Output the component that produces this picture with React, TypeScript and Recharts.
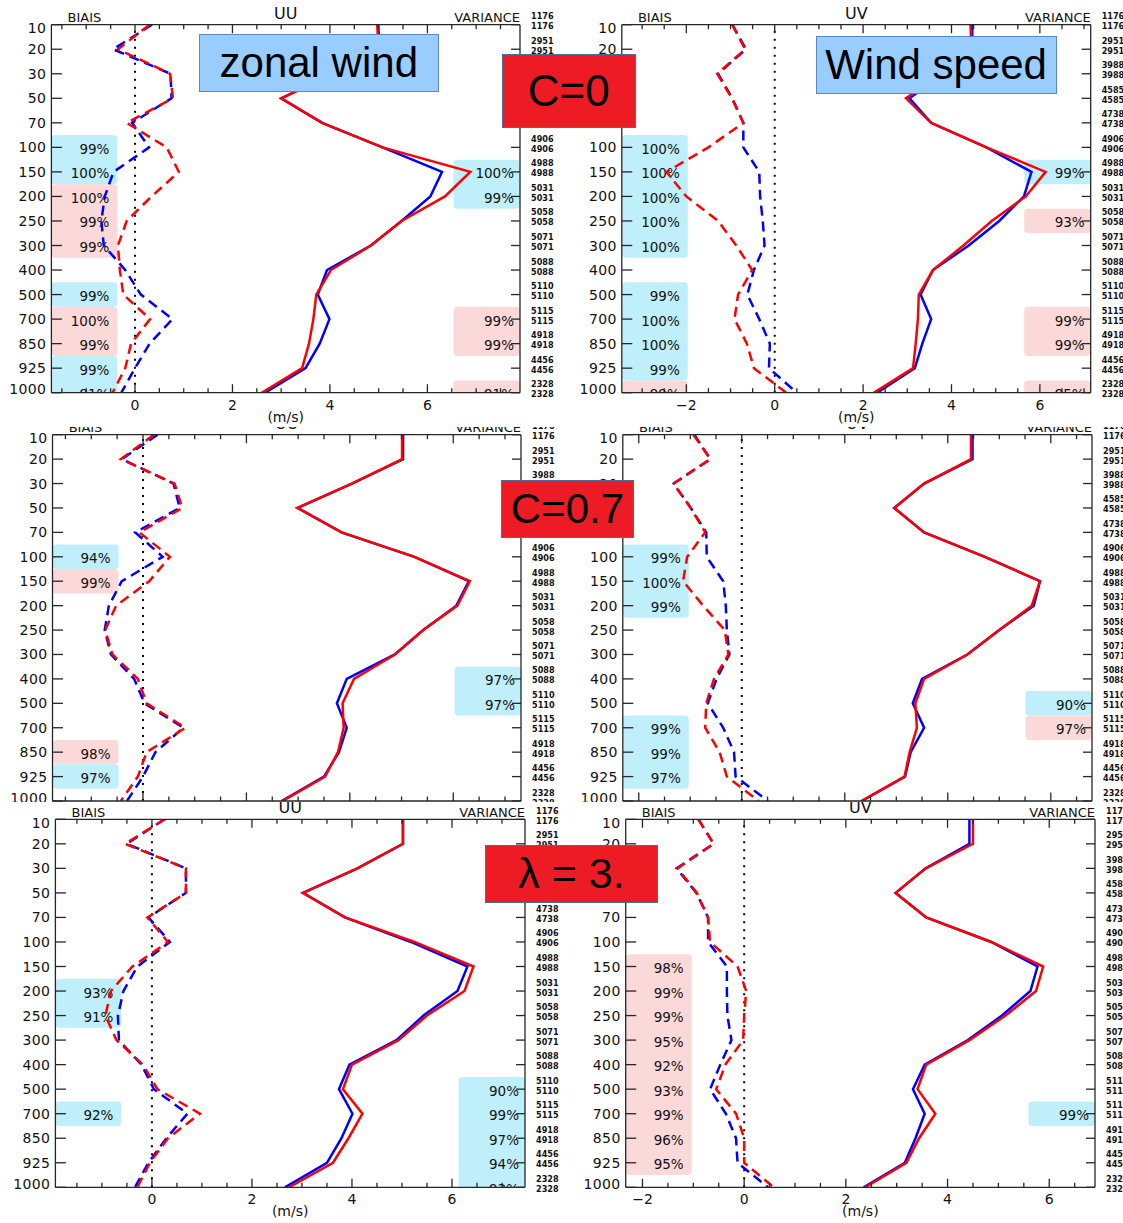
import React from 'react';
import { LineChart, Line, XAxis, YAxis, ReferenceArea, ReferenceLine, Label } from 'recharts';

// Pressure levels (hPa), drawn top to bottom
const LEVELS = ['10', '20', '30', '50', '70', '100', '150', '200', '250', '300', '400', '500', '700', '850', '925', '1000'];
const LEVEL_IDX = LEVELS.map((_, i) => i);

// Observation counts per level (two experiments)
const COUNT_A = [1176, 2951, 3988, 4585, 4738, 4906, 4988, 5031, 5058, 5071, 5088, 5110, 5115, 4918, 4456, 2328];
const COUNT_B = [1176, 2951, 3988, 4585, 4738, 4906, 4988, 5031, 5058, 5071, 5088, 5110, 5115, 4918, 4456, 2328];

// ---- UU, C=0 ----
const UU_C0_BIAS_RED = [0.3, -0.35, 0.72, 0.78, -0.17, 0.65, 0.9, 0.34, -0.17, -0.35, -0.31, -0.24, 0.31, -0.08, -0.2, -0.46];
const UU_C0_BIAS_BLUE = [0.35, -0.45, 0.73, 0.75, -0.06, 0.29, -0.44, -0.62, -0.69, -0.64, -0.2, 0.12, 0.77, 0.3, 0.0, -0.28];
const UU_C0_VAR_RED = [4.97, 5.0, 4.05, 3.0, 3.84, 5.08, 6.88, 6.36, 5.47, 4.84, 4.02, 3.72, 3.66, 3.57, 3.43, 2.6];
const UU_C0_VAR_BLUE = [4.99, 5.02, 4.05, 3.0, 3.84, 5.08, 6.3, 6.06, 5.47, 4.84, 3.94, 3.75, 3.99, 3.79, 3.5, 2.67];
// significance (%): positive = blue box, negative = pink box
const UU_C0_SIG_LEFT = [null, null, null, null, null, 99, 100, -100, -99, -99, null, 99, -100, -99, 99, 91];
const UU_C0_SIG_RIGHT = [null, null, null, null, null, null, 100, 99, null, null, null, null, -99, -99, null, -91];

// ---- UV, C=0 ----
const UV_C0_BIAS_RED = [-0.96, -0.67, -1.3, -0.97, -0.71, -1.5, -2.45, -2.0, -1.28, -0.87, -0.51, -0.83, -0.91, -0.63, -0.47, 0.26];
const UV_C0_BIAS_BLUE = [-0.96, -0.65, -1.28, -0.96, -0.71, -0.71, -0.35, -0.33, -0.27, -0.23, -0.47, -0.62, -0.35, -0.11, -0.13, 0.5];
const UV_C0_VAR_RED = [4.43, 4.45, 3.8, 2.97, 3.54, 4.79, 6.13, 5.68, 4.91, 4.27, 3.58, 3.26, 3.24, 3.19, 3.13, 2.24];
const UV_C0_VAR_BLUE = [4.47, 4.47, 3.82, 3.05, 3.54, 4.79, 5.81, 5.64, 5.08, 4.39, 3.58, 3.3, 3.54, 3.34, 3.17, 2.32];
const UV_C0_SIG_LEFT = [null, null, null, null, null, 100, 100, 100, 100, 100, null, 99, 100, 100, 99, -99];
const UV_C0_SIG_RIGHT = [null, null, null, null, null, null, 99, null, -93, null, null, null, -99, -99, null, -95];

// ---- UU, C=0.7 ----
const UU_C07_BIAS_RED = [0.21, -0.43, 0.61, 0.76, -0.07, 0.52, 0.12, -0.52, -0.73, -0.59, -0.1, 0.07, 0.82, 0.07, -0.1, -0.43];
const UU_C07_BIAS_BLUE = [0.28, -0.41, 0.59, 0.71, -0.15, 0.38, -0.41, -0.66, -0.74, -0.62, -0.17, 0.03, 0.78, 0.24, 0.0, -0.31];
const UU_C07_VAR_RED = [5.01, 5.01, 4.04, 2.99, 3.84, 5.25, 6.32, 6.08, 5.42, 4.87, 4.08, 3.86, 3.88, 3.77, 3.52, 2.7];
const UU_C07_VAR_BLUE = [5.03, 5.03, 4.04, 2.99, 3.84, 5.25, 6.3, 6.06, 5.42, 4.87, 3.94, 3.75, 3.94, 3.79, 3.5, 2.68];
const UU_C07_SIG_LEFT = [null, null, null, null, null, 94, -99, null, null, null, null, null, null, -98, 97, null];
const UU_C07_SIG_RIGHT = [null, null, null, null, null, null, null, null, null, null, 97, 97, null, null, null, null];

// ---- UV, C=0.7 ----
const UV_C07_BIAS_RED = [-0.94, -0.61, -1.33, -0.99, -0.71, -1.06, -1.14, -0.75, -0.33, -0.26, -0.54, -0.69, -0.71, -0.43, -0.29, 0.33];
const UV_C07_BIAS_BLUE = [-0.92, -0.61, -1.32, -0.99, -0.69, -0.68, -0.36, -0.31, -0.29, -0.24, -0.49, -0.66, -0.36, -0.15, -0.12, 0.51];
const UV_C07_VAR_RED = [4.45, 4.45, 3.54, 2.96, 3.54, 4.72, 5.79, 5.63, 5.0, 4.38, 3.54, 3.37, 3.4, 3.26, 3.16, 2.32];
const UV_C07_VAR_BLUE = [4.48, 4.48, 3.54, 2.96, 3.54, 4.72, 5.79, 5.67, 5.0, 4.38, 3.5, 3.32, 3.54, 3.28, 3.17, 2.33];
const UV_C07_SIG_LEFT = [null, null, null, null, null, 99, 100, 99, null, null, null, null, 99, 99, 97, null];
const UV_C07_SIG_RIGHT = [null, null, null, null, null, null, null, null, null, null, null, 90, -97, null, null, null];

// ---- UU, lambda=3 ----
const UU_L3_BIAS_RED = [0.26, -0.54, 0.68, 0.68, -0.09, 0.32, -0.39, -0.82, -0.93, -0.71, -0.18, 0.11, 0.96, 0.32, -0.04, -0.29];
const UU_L3_BIAS_BLUE = [0.25, -0.5, 0.68, 0.68, -0.07, 0.36, -0.29, -0.57, -0.68, -0.66, -0.21, 0.04, 0.71, 0.29, -0.07, -0.34];
const UU_L3_VAR_RED = [5.02, 5.02, 4.11, 3.02, 3.86, 5.25, 6.43, 6.25, 5.5, 4.93, 4.0, 3.82, 4.21, 3.93, 3.62, 2.74];
const UU_L3_VAR_BLUE = [5.02, 5.02, 4.11, 3.02, 3.86, 5.18, 6.31, 6.11, 5.43, 4.89, 3.95, 3.74, 4.01, 3.79, 3.5, 2.66];
const UU_L3_SIG_LEFT = [null, null, null, null, null, null, null, 93, 91, null, null, null, 92, null, null, null];
const UU_L3_SIG_RIGHT = [null, null, null, null, null, null, null, null, null, null, null, 90, 99, 97, 94, 93];

// ---- UV, lambda=3 ----
const UV_L3_BIAS_RED = [-0.9, -0.6, -1.31, -0.93, -0.71, -0.67, -0.13, 0.04, 0.0, -0.02, -0.37, -0.55, -0.16, 0.0, 0.0, 0.58];
const UV_L3_BIAS_BLUE = [-0.9, -0.6, -1.33, -0.94, -0.71, -0.71, -0.34, -0.34, -0.33, -0.25, -0.47, -0.67, -0.36, -0.16, -0.13, 0.47];
const UV_L3_VAR_RED = [4.5, 4.5, 3.57, 2.98, 3.58, 4.86, 5.88, 5.74, 5.14, 4.43, 3.58, 3.41, 3.76, 3.44, 3.19, 2.38];
const UV_L3_VAR_BLUE = [4.43, 4.43, 3.57, 2.98, 3.58, 4.86, 5.77, 5.63, 5.07, 4.4, 3.55, 3.32, 3.55, 3.37, 3.16, 2.35];
const UV_L3_SIG_LEFT = [null, null, null, null, null, null, -98, -99, -99, -95, -92, -93, -99, -96, -95, null];
const UV_L3_SIG_RIGHT = [null, null, null, null, null, null, null, null, null, null, null, null, 99, null, null, null];

const FONT = "'DejaVu Sans', 'Liberation Sans', sans-serif";
const COUNT_FONT = "'DejaVu Sans Condensed', 'Liberation Sans Narrow', 'DejaVu Sans', sans-serif";
const AXIS = '#262626';
const RED = '#ff0000';
const BLUE = '#0000ff';
const BOX_BLUE = '#c0effc';
const BOX_PINK = '#fcd9d9';

type Sig = (number | null)[];
type Rect = { left: number; top: number; width: number; height: number };
type Plot = { l: number; r: number; t: number; b: number };
type PanelSpec = {
  key: string;
  title: string;
  box: Rect;
  plot: Plot;
  xDomain: [number, number];
  z: number;
  biasRed: number[];
  biasBlue: number[];
  varRed: number[];
  varBlue: number[];
  sigLeft: Sig;
  sigRight: Sig;
};

const PANELS: PanelSpec[] = [
  {
    key: 'uu-c0', title: 'UU', z: 2,
    box: { left: 0, top: 0, width: 562, height: 427 },
    plot: { l: 51.4, r: 520, t: 24.7, b: 392.7 },
    xDomain: [-1.715, 7.9],
    biasRed: UU_C0_BIAS_RED, biasBlue: UU_C0_BIAS_BLUE, varRed: UU_C0_VAR_RED, varBlue: UU_C0_VAR_BLUE,
    sigLeft: UU_C0_SIG_LEFT, sigRight: UU_C0_SIG_RIGHT,
  },
  {
    key: 'uv-c0', title: 'UV', z: 2,
    box: { left: 562, top: 0, width: 561, height: 427 },
    plot: { l: 621.8, r: 1090.7, t: 24.7, b: 392.7 },
    xDomain: [-3.46, 7.15],
    biasRed: UV_C0_BIAS_RED, biasBlue: UV_C0_BIAS_BLUE, varRed: UV_C0_VAR_RED, varBlue: UV_C0_VAR_BLUE,
    sigLeft: UV_C0_SIG_LEFT, sigRight: UV_C0_SIG_RIGHT,
  },
  {
    key: 'uu-c07', title: 'UU', z: 1,
    box: { left: 0, top: 400, width: 562, height: 445 },
    plot: { l: 52.5, r: 521, t: 434.7, b: 801 },
    xDomain: [-1.75, 7.31],
    biasRed: UU_C07_BIAS_RED, biasBlue: UU_C07_BIAS_BLUE, varRed: UU_C07_VAR_RED, varBlue: UU_C07_VAR_BLUE,
    sigLeft: UU_C07_SIG_LEFT, sigRight: UU_C07_SIG_RIGHT,
  },
  {
    key: 'uv-c07', title: 'UV', z: 1,
    box: { left: 562, top: 400, width: 561, height: 445 },
    plot: { l: 622.8, r: 1092, t: 434.7, b: 801 },
    xDomain: [-2.31, 6.8],
    biasRed: UV_C07_BIAS_RED, biasBlue: UV_C07_BIAS_BLUE, varRed: UV_C07_VAR_RED, varBlue: UV_C07_VAR_BLUE,
    sigLeft: UV_C07_SIG_LEFT, sigRight: UV_C07_SIG_RIGHT,
  },
  {
    key: 'uu-l3', title: 'UU', z: 2,
    box: { left: 0, top: 802, width: 562, height: 421 },
    plot: { l: 55.4, r: 525, t: 819.3, b: 1187.3 },
    xDomain: [-1.93, 7.46],
    biasRed: UU_L3_BIAS_RED, biasBlue: UU_L3_BIAS_BLUE, varRed: UU_L3_VAR_RED, varBlue: UU_L3_VAR_BLUE,
    sigLeft: UU_L3_SIG_LEFT, sigRight: UU_L3_SIG_RIGHT,
  },
  {
    key: 'uv-l3', title: 'UV', z: 2,
    box: { left: 562, top: 802, width: 561, height: 421 },
    plot: { l: 625.7, r: 1095, t: 819.3, b: 1187.3 },
    xDomain: [-2.33, 6.9],
    biasRed: UV_L3_BIAS_RED, biasBlue: UV_L3_BIAS_BLUE, varRed: UV_L3_VAR_RED, varBlue: UV_L3_VAR_BLUE,
    sigLeft: UV_L3_SIG_LEFT, sigRight: UV_L3_SIG_RIGHT,
  },
];

// Annotation boxes laid over the panels
const NOTES = [
  { text: 'zonal wind', left: 198.6, top: 34, width: 240.4, height: 57.7, fill: '#99ccff', border: '#5a86c4', size: 42 },
  { text: 'Wind speed', left: 815.6, top: 36, width: 241, height: 58, fill: '#99ccff', border: '#5a86c4', size: 42 },
  { text: 'C=0', left: 502, top: 54, width: 133.5, height: 74.3, fill: '#ed1c24', border: '#41719c', size: 44 },
  { text: 'C=0.7', left: 500.7, top: 480, width: 133.5, height: 57.7, fill: '#ed1c24', border: '#41719c', size: 42 },
  { text: '\u03bb = 3.', left: 484.6, top: 845, width: 173.8, height: 57.7, fill: '#ed1c24', border: '#41719c', size: 43 },
];

const isMajor = (v: number) => Math.abs(v - Math.round(v)) < 1e-6 && Math.round(v) % 2 === 0;
const fmtTick = (v: number) => (v < 0 ? `\u2212${Math.abs(v)}` : `${v}`);

function LevelTick(props: any) {
  const { x, y, payload } = props;
  const i = payload.value as number;
  const nudge = i === 0 ? 3.5 : i === LEVELS.length - 1 ? -3.5 : 0;
  return (
    <g>
      <line x1={x} x2={x + 10.5} y1={y} y2={y} stroke={AXIS} strokeWidth={1.3} />
      <text x={x - 5} y={y + nudge} textAnchor="end" dominantBaseline="central" fontFamily={FONT} fontSize={14} letterSpacing={0.4} fill="#111">
        {LEVELS[i]}
      </text>
    </g>
  );
}

function CountTick(props: any) {
  const { x, y, payload } = props;
  const i = payload.value as number;
  return (
    <g>
      <line x1={x} x2={x - 9} y1={y} y2={y} stroke={AXIS} strokeWidth={1.3} />
      <text x={x + 11} y={y - 8.5} dominantBaseline="central" fontFamily={COUNT_FONT} fontWeight="bold" fontSize={9} fill="#111">
        {COUNT_A[i]}
      </text>
      <text x={x + 11} y={y + 1.5} dominantBaseline="central" fontFamily={COUNT_FONT} fontWeight="bold" fontSize={9} fill="#111">
        {COUNT_B[i]}
      </text>
    </g>
  );
}

function BottomTick(props: any) {
  const { x, y, payload } = props;
  const v = payload.value as number;
  const major = isMajor(v);
  return (
    <g>
      <line x1={x} x2={x} y1={y} y2={y - (major ? 8.5 : 4.5)} stroke={AXIS} strokeWidth={1.3} />
      {major && (
        <text x={x} y={y + 12} textAnchor="middle" dominantBaseline="central" fontFamily={FONT} fontSize={14} fill="#111">
          {fmtTick(v)}
        </text>
      )}
    </g>
  );
}

function TopTick(props: any) {
  const { x, y, payload } = props;
  const major = isMajor(payload.value as number);
  return <line x1={x} x2={x} y1={y} y2={y + (major ? 8.5 : 4.5)} stroke={AXIS} strokeWidth={1.3} />;
}

// Group consecutive levels that share the same box colour
function runsOf(sig: Sig) {
  const runs: { from: number; to: number; pos: boolean }[] = [];
  sig.forEach((v, i) => {
    if (v == null) return;
    const pos = v > 0;
    const last = runs[runs.length - 1];
    if (last && last.to === i - 1 && last.pos === pos) last.to = i;
    else runs.push({ from: i, to: i, pos });
  });
  return runs;
}

const YL = 40;
const YR = 25;
const XB = 32;
const XT = 1;

function Panel({ s }: { s: PanelSpec }) {
  const { box, plot } = s;
  const [x0, x1] = s.xDomain;
  const rows = LEVELS.map((_, i) => ({ i, br: s.biasRed[i], bb: s.biasBlue[i], vr: s.varRed[i], vb: s.varBlue[i] }));
  const pxPerUnit = (plot.r - plot.l) / (x1 - x0);
  const leftEdge = x0 + 66 / pxPerUnit;
  const rightEdge = x1 - 66.5 / pxPerUnit;
  const xTicks: number[] = [];
  for (let k = Math.ceil(x0 * 2); k <= Math.floor(x1 * 2); k++) xTicks.push(k / 2);
  const margin = {
    left: plot.l - box.left - YL,
    right: box.left + box.width - plot.r - YR,
    top: plot.t - box.top - XT,
    bottom: box.top + box.height - plot.b - XB,
  };

  const sides = [
    { key: 'L', sig: s.sigLeft, xa: x0, xb: leftEdge, inset: 8 },
    { key: 'R', sig: s.sigRight, xa: rightEdge, xb: x1, inset: 6 },
  ];

  const titleStyle: React.CSSProperties = {
    position: 'absolute', fontFamily: FONT, fontSize: 13, lineHeight: 1, color: '#111', whiteSpace: 'nowrap',
  };

  return (
    <div style={{ position: 'absolute', left: box.left, top: box.top, width: box.width, height: box.height, background: '#fff', overflow: 'hidden', zIndex: s.z }}>
      <LineChart width={box.width} height={box.height} layout="vertical" data={rows} margin={margin}>
        <XAxis
          xAxisId="b" type="number" orientation="bottom" domain={[x0, x1]} allowDataOverflow
          ticks={xTicks} interval={0} height={XB} tickLine={false} tickSize={0} tickMargin={0}
          tick={<BottomTick />} axisLine={{ stroke: AXIS, strokeWidth: 1.3 }}
        >
          <Label value="(m/s)" position="insideBottom" offset={3} style={{ fontFamily: FONT, fontSize: 14, fill: '#111' }} />
        </XAxis>
        <XAxis
          xAxisId="t" type="number" orientation="top" domain={[x0, x1]} allowDataOverflow
          ticks={xTicks} interval={0} height={XT} tickLine={false} tickSize={0} tickMargin={0}
          tick={<TopTick />} axisLine={{ stroke: AXIS, strokeWidth: 1.3 }}
        />
        <YAxis
          yAxisId="l" type="number" dataKey="i" domain={[0, LEVELS.length - 1]} allowDataOverflow
          ticks={LEVEL_IDX} interval={0} width={YL} tickLine={false} tickSize={0} tickMargin={0}
          tick={<LevelTick />} axisLine={{ stroke: AXIS, strokeWidth: 1.3 }}
        />
        <YAxis
          yAxisId="r" orientation="right" type="number" dataKey="i" domain={[0, LEVELS.length - 1]} allowDataOverflow
          ticks={LEVEL_IDX} interval={0} width={YR} tickLine={false} tickSize={0} tickMargin={0}
          tick={<CountTick />} axisLine={{ stroke: AXIS, strokeWidth: 1.3 }}
        />

        {sides.map((side) =>
          runsOf(side.sig).map((run) => (
            <ReferenceArea
              key={`box-${side.key}-${run.from}`}
              xAxisId="b" yAxisId="l"
              x1={side.xa} x2={side.xb} y1={run.from - 0.5} y2={run.to + 0.5}
              ifOverflow="hidden"
              shape={(p: any) => (
                <rect x={p.x} y={p.y} width={p.width} height={p.height} rx={4} ry={4}
                  fill={run.pos ? BOX_BLUE : BOX_PINK} clipPath={p.clipPath} />
              )}
            />
          ))
        )}

        <ReferenceLine x={0} xAxisId="b" yAxisId="l" stroke="#000" strokeWidth={2} strokeDasharray="2 6" />

        <Line xAxisId="b" yAxisId="l" dataKey="bb" type="linear" stroke={BLUE} strokeWidth={2.5} strokeDasharray="10 6" dot={false} isAnimationActive={false} />
        <Line xAxisId="b" yAxisId="l" dataKey="br" type="linear" stroke={RED} strokeWidth={2.5} strokeDasharray="10 6" dot={false} isAnimationActive={false} />
        <Line xAxisId="b" yAxisId="l" dataKey="vb" type="linear" stroke={BLUE} strokeWidth={2.5} dot={false} isAnimationActive={false} />
        <Line xAxisId="b" yAxisId="l" dataKey="vr" type="linear" stroke={RED} strokeWidth={2.5} dot={false} isAnimationActive={false} />

        {sides.map((side) =>
          side.sig.map((v, i) =>
            v == null ? null : (
              <ReferenceArea
                key={`pct-${side.key}-${i}`}
                xAxisId="b" yAxisId="l"
                x1={side.xa} x2={side.xb} y1={i - 0.5} y2={i + 0.5}
                ifOverflow="hidden"
                shape={(p: any) => (
                  <text x={p.x + p.width - side.inset} y={p.y + p.height / 2 + 1.5} textAnchor="end" dominantBaseline="central"
                    fontFamily={FONT} fontSize={13.5} fill="#111" clipPath={p.clipPath}>
                    {`${Math.abs(v)}%`}
                  </text>
                )}
              />
            )
          )
        )}
      </LineChart>

      <span style={{ ...titleStyle, left: plot.l - box.left + 33, top: plot.t - box.top - 7.5, transform: 'translate(-50%, -50%)' }}>BIAIS</span>
      <span style={{ ...titleStyle, fontSize: 16, left: (plot.l + plot.r) / 2 - box.left, top: plot.t - box.top - 11, transform: 'translate(-50%, -50%)' }}>{s.title}</span>
      <span style={{ ...titleStyle, left: plot.r - box.left, top: plot.t - box.top - 7.5, transform: 'translate(-100%, -50%)' }}>VARIANCE</span>
    </div>
  );
}

export default function App() {
  return (
    <div style={{ position: 'absolute', left: 0, top: 0, width: 1123, height: 1223, background: '#fff', overflow: 'hidden' }}>
      {PANELS.map((p) => (
        <Panel key={p.key} s={p} />
      ))}
      {NOTES.map((n) => (
        <div
          key={n.text}
          style={{
            position: 'absolute', left: n.left, top: n.top, width: n.width, height: n.height, boxSizing: 'border-box',
            background: n.fill, border: `1.3px solid ${n.border}`, zIndex: 3,
            display: 'flex', alignItems: 'center', justifyContent: 'center',
            fontFamily: "'Liberation Sans', Arial, sans-serif", fontSize: n.size, color: '#000', whiteSpace: 'nowrap',
          }}
        >
          {n.text}
        </div>
      ))}
    </div>
  );
}
